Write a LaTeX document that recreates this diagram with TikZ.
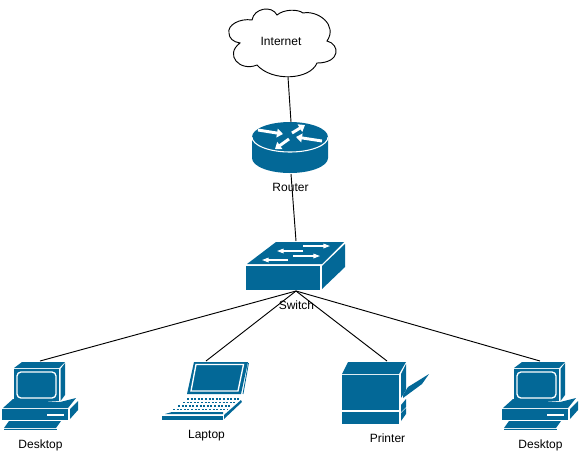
\documentclass[tikz,border=0pt]{standalone}
\usepackage{fontspec}
\setmainfont{Liberation Sans}
\definecolor{ciscoblue}{RGB}{3,104,151}
\usetikzlibrary{arrows.meta}

\begin{document}
\begin{tikzpicture}[
      x=0.75pt, y=-0.75pt,
      devlabel/.style={font=\fontsize{9}{11}\selectfont, color=black, inner sep=0pt},
      wire/.style={draw=black, line width=0.7pt},
      body/.style={fill=ciscoblue},
      flow/.style={draw=white, line width=2.2pt, -{Triangle[length=4.5pt, width=6.5pt]}},
      thinflow/.style={draw=white, line width=0.8pt, -{Triangle[length=5pt, width=3.5pt]}},
      desktop/.pic={
        % monitor
        \fill[body] (14,368) -- (22,362) -- (65,362) -- (59,368) -- cycle;
        \fill[body] (14,369) rectangle (59,401);
        \fill[body] (60.5,369) -- (65,363) -- (65,395) -- (60.5,401) -- cycle;
        \draw[white, line width=1pt, rounded corners=3pt] (17,372) rectangle (56,398);
        % base
        \fill[body] (3,408) -- (13,399) -- (60,402) -- (76,398) -- (68,408) -- cycle;
        \fill[body] (2,409) rectangle (68,420);
        \fill[body] (70,409) -- (78,401) -- (78,410) -- (70,419) -- cycle;
        \fill[white] (47,414) rectangle (64,416);
        % keyboard
        \fill[body] (4,428) -- (9,421) -- (61,421) -- (56,428) -- cycle;
        \draw[ciscoblue, line width=0.6pt] (4,429.5) -- (57,429.5);
        \coordinate (-in) at (40,361);
      }
    ]

    \useasboundingbox (0,0) rectangle (582,455);

    % Internet
    \draw[black, fill=white, line width=0.7pt] (229,33)
      .. controls (227,25) and (240,18) .. (252,20)
      .. controls (254,8) and (272,5) .. (277,15)
      .. controls (284,9) and (298,9) .. (303,13)
      .. controls (318,10) and (338,25) .. (327,41)
      .. controls (340,44) and (341,63) .. (317,63)
      .. controls (310,80) and (272,82) .. (257,65)
      .. controls (240,72) and (224,55) .. (240,43)
      .. controls (233,42) and (229,38) .. (229,33) -- cycle;
    \node[devlabel] (internet) at (281,41) {Internet};
    \coordinate (internet-out) at (288,77);

    % Router
    \fill[body] (252,137) -- (252,158) arc[start angle=180, end angle=360, x radius=38, y radius=-15]
      -- (328,137) arc[start angle=0, end angle=180, x radius=38, y radius=-15] -- cycle;
    \draw[white, line width=0.8pt] (252,137) arc[start angle=180, end angle=360, x radius=38, y radius=-15];
    \draw[flow] (258,130) -- (283,134);
    \draw[flow] (292,133) -- (305,125);
    \draw[flow] (322,141) -- (296,137);
    \draw[flow] (289,139) -- (275,149);
    \node[devlabel] (routerlabel) at (290.5,187.5) {Router};
    \coordinate (router-in) at (291,122);
    \coordinate (router-out) at (291,174);

    % Switch
    \fill[body] (276,242) -- (344,242) -- (322,264) -- (247,264) -- cycle;
    \fill[body] (246,266) rectangle (320,290);
    \fill[body] (322,266) -- (345,244) -- (345,267) -- (322,289) -- cycle;
    \draw[thinflow] (303,246) -- (330,246);
    \draw[thinflow] (303,251) -- (277,251);
    \draw[thinflow] (293,256) -- (320,256);
    \draw[thinflow] (288,260) -- (262,260);
    \node[devlabel] (switchlabel) at (296.5,305) {Switch};
    \coordinate (switch-in) at (296,241);
    \coordinate (switch-out) at (296,291);

    % Desktops
    \pic (desktopa) at (0,0) {desktop};
    \pic (desktopb) at (500,0) {desktop};
    \node[devlabel] (desktopalabel) at (40.5,445.5) {Desktop};
    \node[devlabel] (desktopblabel) at (540.5,445.5) {Desktop};

    % Laptop
    \fill[body] (194,362) -- (248,362) -- (241,394) -- (187,394) -- cycle;
    \draw[white, line width=1pt] (196,364.5) -- (243.5,364.5) -- (238,391) -- (191,391) -- cycle;
    \draw[ciscoblue, line width=0.6pt] (248.5,363) -- (243,394);
    \foreach \ya/\xa/\xb in {399/187/240, 402.5/183/237, 406/178/232, 409.5/173/228}
      \draw[ciscoblue, line width=1.1pt, dash pattern=on 1.5pt off 1.2pt] (\xa,\ya) -- (\xb,\ya);
    \fill[body] (172,412) -- (223,412) -- (223,414) -- (165,414) -- cycle;
    \fill[body] (162,416) rectangle (223,420);
    \fill[body] (224,415) -- (241,400) -- (242,402) -- (224,419) -- cycle;
    \node[devlabel] (laptoplabel) at (206.5,435.5) {Laptop};
    \coordinate (laptop-in) at (206,361);

    % Printer
    \fill[body] (348,362) -- (406,362) -- (399,374) -- (342,374) -- cycle;
    \fill[body] (342,375) rectangle (399,410);
    \fill[body] (342,412) rectangle (399,424);
    \fill[body] (401,374) -- (406,364) -- (406,390) -- (401,398) -- cycle;
    \fill[body] (401,405) -- (406,399) -- (406,407) -- (401,412) -- cycle;
    \fill[body] (401,413) -- (406,408) -- (406,414) -- (401,421) -- cycle;
    \fill[body] (403,395) -- (408,387) -- (429,374) -- (422,384) -- (403,398) -- cycle;
    \node[devlabel] (printerlabel) at (387.5,438.5) {Printer};
    \coordinate (printer-in) at (387,361);

    % Links
    \draw[wire] (internet-out) -- (router-in);
    \draw[wire] (router-out) -- (switch-in);
    \draw[wire] (switch-out) -- (desktopa-in);
    \draw[wire] (switch-out) -- (laptop-in);
    \draw[wire] (switch-out) -- (printer-in);
    \draw[wire] (switch-out) -- (desktopb-in);

  \end{tikzpicture}
\end{document}
